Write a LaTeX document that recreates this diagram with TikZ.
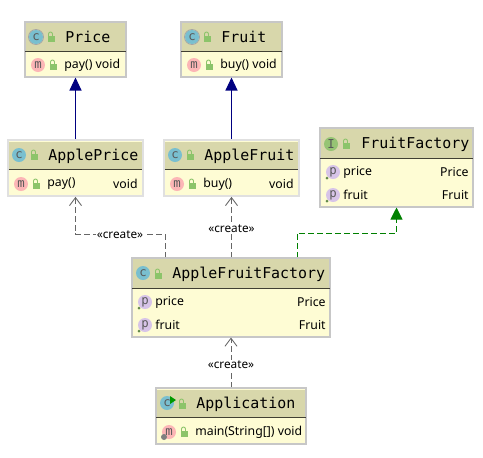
\documentclass[tikz,border=0pt]{standalone}
\usepackage{fontspec}
\setmainfont{Noto Sans}
\setmonofont{DejaVu Sans Mono}
\usetikzlibrary{arrows.meta}

\definecolor{headfill}{RGB}{216,215,171}
\definecolor{bodyfill}{RGB}{254,252,212}
\definecolor{iconc}{RGB}{121,191,207}
\definecolor{iconm}{RGB}{252,182,182}
\definecolor{iconp}{RGB}{215,196,232}
\definecolor{iconi}{RGB}{150,196,116}
\definecolor{lockgreen}{RGB}{140,196,106}

\tikzset{
  classbox/.style={draw=black!22, line width=0.6pt, fill=bodyfill, inner sep=0pt},
  softbox/.style={classbox, draw=black!12, line width=1pt},
  headbox/.style={fill=headfill, inner sep=0pt},
  headline/.style={draw=black!70!headfill, line width=0.6pt},
  titletext/.style={anchor=west, inner sep=0pt, font=\ttfamily\fontsize{8.5}{10}\selectfont},
  bodytext/.style={anchor=west, inner sep=0pt, font=\fontsize{7}{8}\selectfont},
  typetext/.style={bodytext, anchor=east},
  icon/.style={circle, inner sep=0pt, minimum size=0.28cm, text=black!65, font=\ttfamily\fontsize{7}{7}\selectfont},
  createtext/.style={inner sep=0.5pt, fill=white, font=\fontsize{6.7}{8}\selectfont},
  extends/.style={-{Triangle[length=0.26cm,width=0.24cm]}, draw=blue!50!black, line width=0.6pt},
  implements/.style={-{Triangle[length=0.24cm,width=0.24cm]}, draw=green!50!black, dash pattern=on 3.4pt off 1.7pt, line width=0.5pt},
  creates/.style={-{Straight Barb[length=0.16cm,width=0.24cm]}, draw=black!60, dash pattern=on 3.4pt off 1.7pt, line width=0.5pt},
  lockicon/.pic={
    \fill[lockgreen] (-3,-1) rectangle (4,5);
    \draw[lockgreen, line width=0.5pt] (-2.5,-1) -- (-2.5,-3) arc[start angle=180, end angle=360, radius=2] -- (1.5,-1);
  }
}

\begin{document}
\begin{tikzpicture}[x=0.02cm, y=-0.02cm]
\useasboundingbox (0,0) rectangle (483,457);

\node (Price) at (75.5,49.5) [classbox, minimum width=2.02cm, minimum height=1.1cm]{};
\node (Price-head) at (75.5,37) [headbox, minimum width=2cm, minimum height=0.56cm]{};
\draw [headline] (Price-head.south west) -- (Price-head.south east);

\node (Fruit) at (231.5,49.5) [classbox, minimum width=2.02cm, minimum height=1.1cm]{};
\node (Fruit-head) at (231.5,37) [headbox, minimum width=2cm, minimum height=0.56cm]{};
\draw [headline] (Fruit-head.south west) -- (Fruit-head.south east);

\node (ApplePrice) at (75.5,168) [softbox, minimum width=2.7cm, minimum height=1.12cm]{};
\node (ApplePrice-head) at (75.5,155.5) [headbox, minimum width=2.66cm, minimum height=0.56cm]{};
\draw [headline] (ApplePrice-head.south west) -- (ApplePrice-head.south east);

\node (AppleFruit) at (231.5,168) [softbox, minimum width=2.7cm, minimum height=1.12cm]{};
\node (AppleFruit-head) at (231.5,155.5) [headbox, minimum width=2.66cm, minimum height=0.56cm]{};
\draw [headline] (AppleFruit-head.south west) -- (AppleFruit-head.south east);

\node (FruitFactory) at (396.5,167.5) [classbox, minimum width=3.06cm, minimum height=1.58cm]{};
\node (FruitFactory-head) at (396.5,143.5) [headbox, minimum width=3.04cm, minimum height=0.58cm]{};
\draw [headline] (FruitFactory-head.south west) -- (FruitFactory-head.south east);

\node (AppleFruitFactory) at (231,297.5) [classbox, minimum width=3.96cm, minimum height=1.58cm]{};
\node (AppleFruitFactory-head) at (231,273.5) [headbox, minimum width=3.94cm, minimum height=0.58cm]{};
\draw [headline] (AppleFruitFactory-head.south west) -- (AppleFruitFactory-head.south east);

\node (Application) at (231,416) [classbox, minimum width=3cm, minimum height=1.12cm]{};
\node (Application-head) at (231,403.5) [headbox, minimum width=2.98cm, minimum height=0.56cm]{};
\draw [headline] (Application-head.south west) -- (Application-head.south east);

% titles
\node (Price-title) at (65,37) [titletext]{Price};
\node (Fruit-title) at (221,37) [titletext]{Fruit};
\node (ApplePrice-title) at (48,156) [titletext]{ApplePrice};
\node (AppleFruit-title) at (204,156) [titletext]{AppleFruit};
\node (FruitFactory-title) at (361,144) [titletext]{FruitFactory};
\node (AppleFruitFactory-title) at (172,274) [titletext]{AppleFruitFactory};
\node (Application-title) at (196,404) [titletext]{Application};

% members
\node (Price-pay) at (64,65) [bodytext]{pay() void};
\node (Fruit-buy) at (220,65) [bodytext]{buy() void};
\node (ApplePrice-pay) at (47,184) [bodytext]{pay()};
\node (ApplePrice-void) at (138,184) [typetext]{void};
\node (AppleFruit-buy) at (203,184) [bodytext]{buy()};
\node (AppleFruit-void) at (294,184) [typetext]{void};
\node (FruitFactory-price) at (343,172) [bodytext]{price};
\node (FruitFactory-Price) at (469,172) [typetext]{Price};
\node (FruitFactory-fruit) at (343,195) [bodytext]{fruit};
\node (FruitFactory-Fruit) at (469,195) [typetext]{Fruit};
\node (AppleFruitFactory-price) at (155,302) [bodytext]{price};
\node (AppleFruitFactory-Price) at (326,302) [typetext]{Price};
\node (AppleFruitFactory-fruit) at (155,325) [bodytext]{fruit};
\node (AppleFruitFactory-Fruit) at (326,325) [typetext]{Fruit};
\node (Application-main) at (195,432) [bodytext]{main(String[]) void};

% icons
\foreach \name/\x/\y in {c1/36/37, c2/192/37}
  \draw [black!35, line width=0.5pt] (\x,\y) circle (7.5);
\foreach \name/\x/\y in {c1/36/37, c2/192/37, c3/19/155, c4/175/155, c5/143/273, c6/167/403}
  \node (\name) at (\x,\y) [icon, fill=iconc]{c};
\foreach \name/\x/\y in {m1/38/65, m2/194/65, m3/21/184, m4/177/184, m5/169/432}
  \node (\name) at (\x,\y) [icon, fill=iconm]{m};
\foreach \name/\x/\y in {p1/333/172, p2/333/195, p3/145/302, p4/145/325}{
  \node (\name) at (\x,\y) [icon, fill=iconp]{p};
  \fill [lockgreen!70!black] (\x-6,\y+6) circle (1.5);
}
\node (i1) at (331,144) [icon, fill=iconi]{I};
\fill [green!60!black] (170,396) -- (176,400) -- (170,404) -- cycle;
\fill [black!50] (164,437) circle (3);
\foreach \x/\y in {51/37, 53/65, 207/37, 209/65, 34/155, 36/184, 190/155, 192/184, 346/144, 158/274, 182/404, 184/432}
  \pic at (\x,\y) {lockicon};

% connectors
\coordinate (turn-a) at (165,234);
\coordinate (turn-b) at (75.5,234);
\coordinate (turn-c) at (297,233);
\coordinate (turn-d) at (396.5,233);

\draw [extends] (ApplePrice.north) -- (Price.south);
\draw [extends] (AppleFruit.north) -- (Fruit.south);
\draw [creates] (AppleFruitFactory.north -| turn-a) -- (turn-a) -- (turn-b) -- (ApplePrice.south);
\draw [creates] (AppleFruitFactory.north -| AppleFruit.south) -- (AppleFruit.south);
\draw [implements] (AppleFruitFactory.north -| turn-c) -- (turn-c) -- (turn-d) -- (FruitFactory.south);
\draw [creates] (Application.north) -- (AppleFruitFactory.south);

\node (create-a) at (120,235) [createtext]{«create»};
\node (create-b) at (231.5,229) [createtext]{«create»};
\node (create-c) at (231,365) [createtext]{«create»};

\end{tikzpicture}
\end{document}
